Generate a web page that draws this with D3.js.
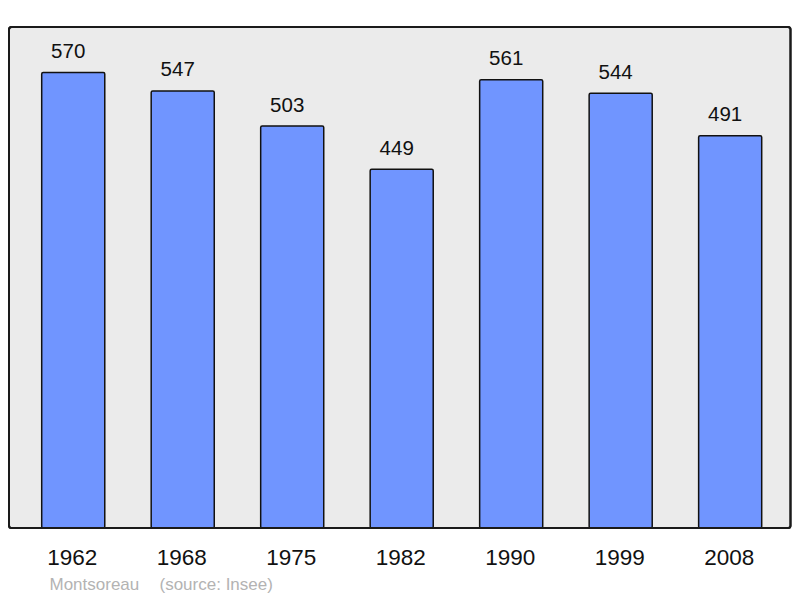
<!DOCTYPE html>
<html><head><meta charset="utf-8">
<script src="https://cdn.jsdelivr.net/npm/d3@7"></script>
<style>body{margin:0;background:#fff}svg{display:block}text{font-family:"Liberation Sans",Arial,sans-serif}</style>
</head><body>
<script>
const years = ["1962","1968","1975","1982","1990","1999","2008"];
const population = [570,547,503,449,561,544,491];
const place = "Montsoreau";
const sourceNote = "(source: Insee)";

const W=800,H=598;
const svg=d3.select("body").append("svg").attr("width",W).attr("height",H);
const frame={x0:9,y0:27,x1:790.5,y1:528};
svg.append("rect").attr("x",frame.x0).attr("y",frame.y0)
  .attr("width",frame.x1-frame.x0).attr("height",frame.y1-frame.y0)
  .attr("rx",2.5).attr("fill","#ebebeb").attr("stroke","#1a1a1a").attr("stroke-width",2);

const x=d3.scaleBand().domain(years).range([41.7,761.7]).paddingInner(0.424).paddingOuter(0);
const y=d3.scaleLinear().domain([0,d3.max(population)*1.1]).range([frame.y1,frame.y0]);

const g=svg.append("g");
g.selectAll("rect.bar").data(years).join("rect").attr("class","bar")
  .attr("x",d=>x(d)).attr("width",x.bandwidth())
  .attr("y",(d,i)=>y(population[i])).attr("height",(d,i)=>y(0)-y(population[i]))
  .attr("rx",1.5).attr("fill","#7095ff").attr("stroke","#111").attr("stroke-width",1.5);

g.selectAll("text.val").data(years).join("text").attr("class","val")
  .attr("x",d=>x(d)+x.bandwidth()/2-5).attr("y",(d,i)=>y(population[i])-14.5)
  .attr("text-anchor","middle").attr("font-size",20.5).attr("fill","#111")
  .text((d,i)=>population[i]);

svg.append("rect").attr("x",frame.x0).attr("y",frame.y0)
  .attr("width",frame.x1-frame.x0).attr("height",frame.y1-frame.y0)
  .attr("rx",2.5).attr("fill","none").attr("stroke","#1a1a1a").attr("stroke-width",2);

const xAxis=d3.axisBottom(x).tickSize(0).tickPadding(0);
const ax=svg.append("g").attr("transform",`translate(-1,${frame.y1})`).call(xAxis);
ax.select(".domain").remove();
ax.selectAll("text").attr("font-size",22.5).attr("fill","#111").attr("dy",null).attr("y",37)
  .attr("font-family","Liberation Sans, Arial, sans-serif");

svg.append("text").attr("x",49.5).attr("y",590).attr("font-size",17).attr("fill","#b3b3b3").text(place);
svg.append("text").attr("x",159.5).attr("y",590).attr("font-size",17).attr("fill","#b3b3b3").text(sourceNote);
</script>
</body></html>
